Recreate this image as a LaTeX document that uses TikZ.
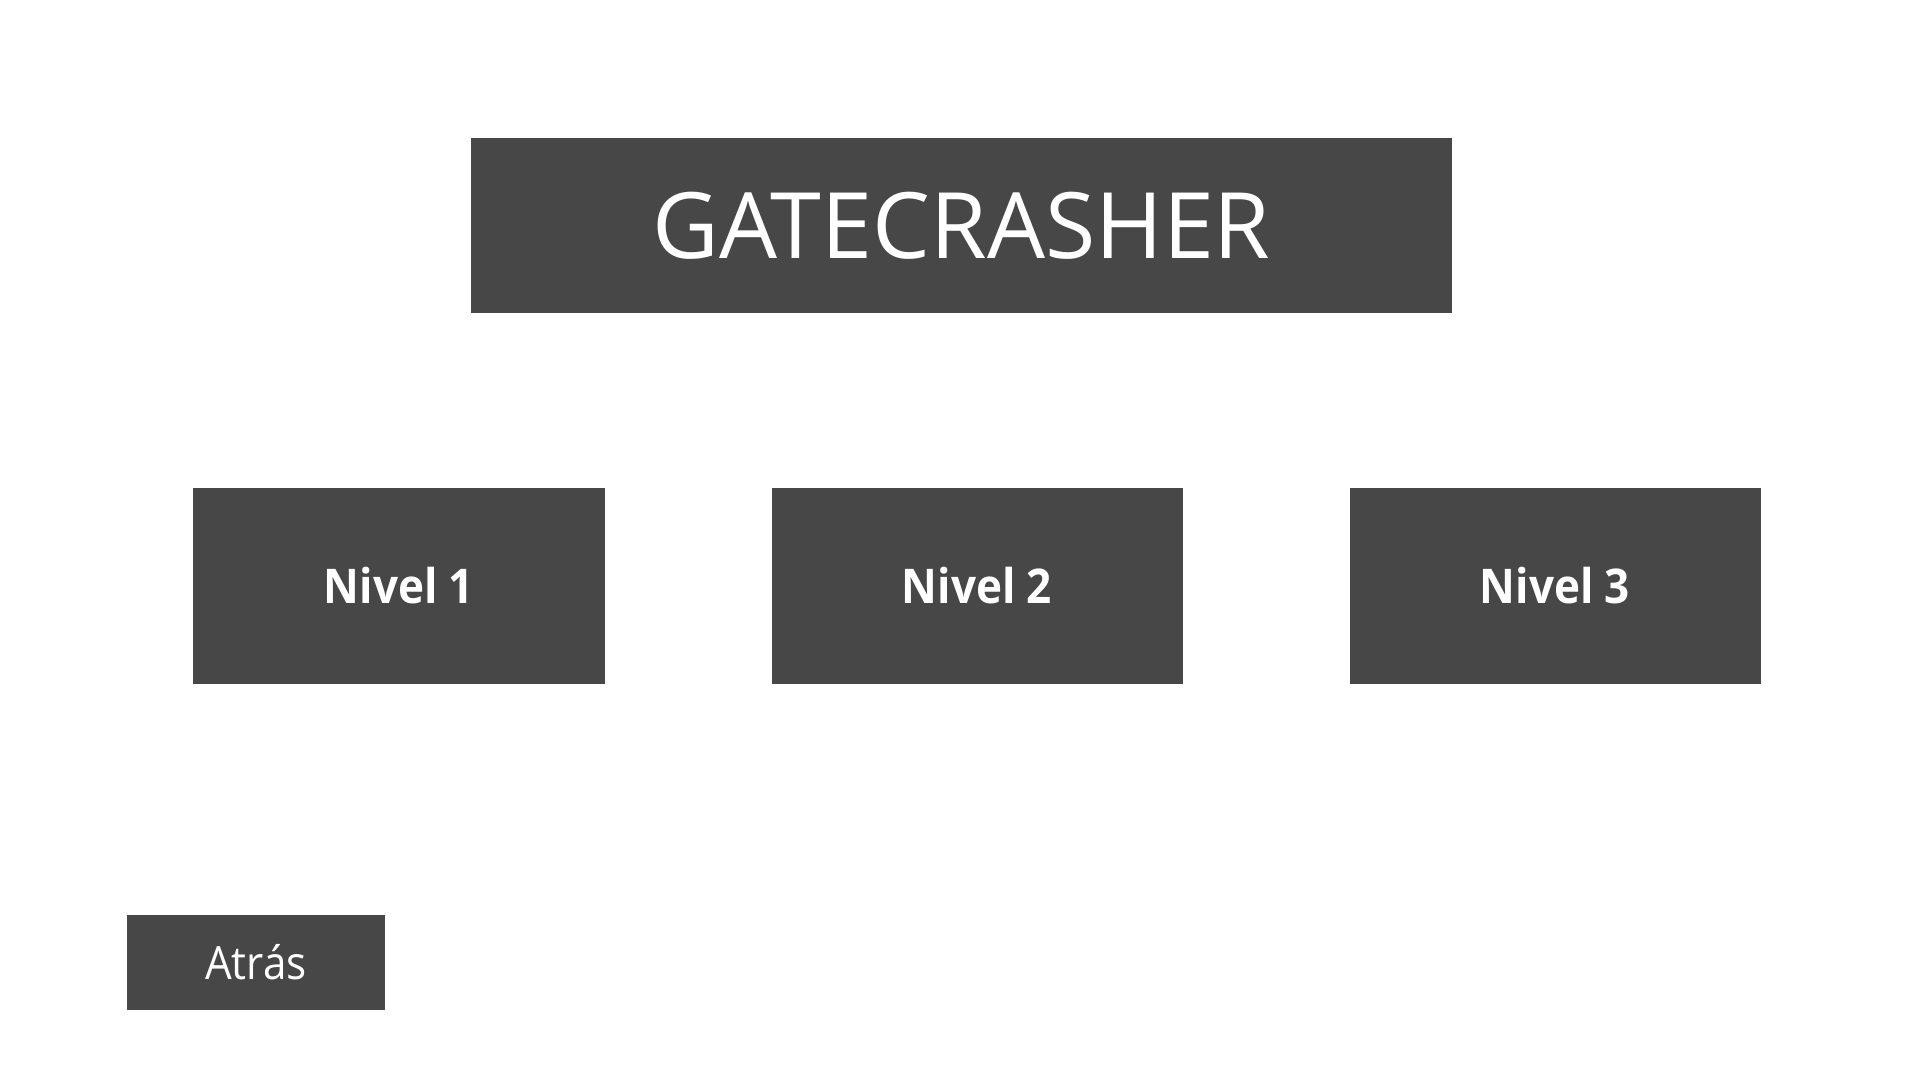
\documentclass[tikz,border=0pt]{standalone}
\usepackage{fontspec}
\setmainfont{Open Sans}
\newfontfamily\narrowsans[FakeStretch=0.92]{Open Sans}
\usepackage{xcolor}
\usepackage{tikz}
\usetikzlibrary{positioning}

\definecolor{boxgray}{HTML}{474747}

\begin{document}
\begin{tikzpicture}[
    x=1bp, y=-1bp,
    box/.style={rectangle, fill=boxgray, text=white, inner sep=0pt, align=center},
    titlebox/.style={box, minimum width=981bp, minimum height=175bp, font=\fontsize{92}{92}\selectfont, text height=66bp, text depth=0pt},
    levelbox/.style={box, minimum width=411bp, minimum height=196bp, font=\narrowsans\fontsize{48}{48}\selectfont\bfseries, text height=35bp, text depth=0pt},
    backbox/.style={box, minimum width=258bp, minimum height=95bp, font=\narrowsans\fontsize{46}{46}\selectfont, text height=34bp, text depth=0pt}
]
    \useasboundingbox (0,0) rectangle (1920,1080);

    \node[titlebox] (title) at (961.5,225.5) {GATECRASHER};

    \node[levelbox] (lvl1) at (399,585.5) {Nivel 1};
    \node[levelbox] (lvl2) at (977,585.5) {Nivel 2};
    \node[levelbox] (lvl3) at (1555,585.5) {Nivel 3};

    \node[backbox] (back) at (256,962.5) {Atrás};
\end{tikzpicture}
\end{document}
